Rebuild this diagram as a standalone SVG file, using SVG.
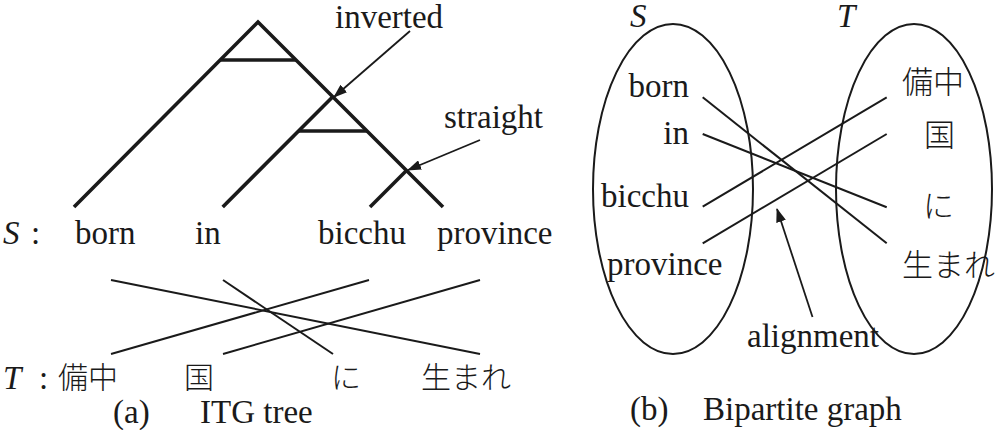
<svg xmlns="http://www.w3.org/2000/svg" width="1000" height="430" viewBox="0 0 1000 430">
<style>
.t{font-family:"Liberation Serif","DejaVu Serif",serif;font-size:33px;fill:#1a1a1a}
.it{font-family:"Liberation Serif","DejaVu Serif",serif;font-size:33px;font-style:italic;fill:#1a1a1a}
.j{font-family:"Noto Sans CJK JP","Noto Sans CJK SC",sans-serif;font-size:30px;font-weight:300;fill:#1a1a1a}
.jb{font-family:"Noto Sans CJK JP","Noto Sans CJK SC",sans-serif;font-size:31px;font-weight:300;fill:#1a1a1a}
.tree{fill:none;stroke:#1a1a1a;stroke-width:3.6;stroke-linejoin:miter}
.ln{fill:none;stroke:#1a1a1a;stroke-width:2}
.ar{fill:none;stroke:#1a1a1a;stroke-width:1.8}
.el{fill:none;stroke:#1a1a1a;stroke-width:2}
</style>
<defs>
<marker id="ah" markerUnits="userSpaceOnUse" markerWidth="14" markerHeight="10" refX="13" refY="5" orient="auto">
<path d="M0,0 L14,5 L0,10 Z" fill="#1a1a1a"/>
</marker>
</defs>
<g id="itg-tree">
<path class="tree" d="M74,207 L258,22 L443,207"/>
<path class="tree" d="M220,60 L296,60"/>
<path class="tree" d="M222.7,207 L332.8,96.8"/>
<path class="tree" d="M298.7,131 L367,131"/>
<path class="tree" d="M370,207 L406.5,170.5"/>
</g>
<g id="label-inverted"><text class="t" x="335" y="28">inverted</text></g>
<g id="label-straight"><text class="t" x="444" y="128">straight</text></g>
<g id="row-S">
<text class="it" x="3" y="244">S</text><text class="t" x="31" y="244">:</text>
</g>
<g id="s-born"><text class="t" x="75" y="244">born</text></g>
<g id="s-in"><text class="t" x="195" y="244">in</text></g>
<g id="s-bicchu"><text class="t" x="318" y="244">bicchu</text></g>
<g id="s-province"><text class="t" x="437" y="244">province</text></g>
<g id="row-T">
<text class="it" x="3" y="389">T</text><text class="t" x="39" y="389">:</text>
</g>
<g id="t-bicchu"><text class="j" x="58" y="388">備中</text></g>
<g id="t-kuni"><text class="j" x="184" y="388">国</text></g>
<g id="t-ni"><text class="j" x="331" y="388">に</text></g>
<g id="t-umare"><text class="j" x="421" y="388">生まれ</text></g>
<g id="caption-a">
<text class="t" x="113" y="423">(a)</text><text class="t" x="200" y="423">ITG tree</text>
</g>
<g id="panel-b-sets">
<text class="it" x="630" y="27">S</text>
<text class="it" x="837" y="27">T</text>
<ellipse class="el" cx="673" cy="189" rx="80" ry="165"/>
<ellipse class="el" cx="914" cy="189" rx="78" ry="165"/>
</g>
<g id="b-born"><text class="t" x="689" y="97" text-anchor="end">born</text></g>
<g id="b-in"><text class="t" x="689" y="144" text-anchor="end">in</text></g>
<g id="b-bicchu"><text class="t" x="689" y="207" text-anchor="end">bicchu</text></g>
<g id="b-province"><text class="t" x="607" y="275">province</text></g>
<g id="b-t-bicchu"><text class="jb" x="902" y="93">備中</text></g>
<g id="b-t-kuni"><text class="jb" x="924" y="146">国</text></g>
<g id="b-t-ni"><text class="jb" x="923" y="217">に</text></g>
<g id="b-t-umare"><text class="jb" x="902" y="276">生まれ</text></g>
<g id="label-alignment"><text class="t" x="747" y="347">alignment</text></g>
<g id="caption-b">
<text class="t" x="630" y="420">(b)</text><text class="t" x="703" y="420">Bipartite graph</text>
</g>
<g id="connectors">
<path class="ar" d="M410,31 L334,97" marker-end="url(#ah)"/>
<path class="ar" d="M480,140 L408,170" marker-end="url(#ah)"/>
<path class="ln" d="M111,280 L480,354"/>
<path class="ln" d="M223,280 L333,354"/>
<path class="ln" d="M369,280 L111,354"/>
<path class="ln" d="M480,280 L223,354"/>
<path class="ln" d="M702.7,97.3 L886.7,243.3"/>
<path class="ln" d="M702.7,134 L886.7,207.3"/>
<path class="ln" d="M702.7,206.7 L886.7,97.3"/>
<path class="ln" d="M702.7,243.3 L886.7,134"/>
<path class="ar" d="M812.5,317 L777,209" marker-end="url(#ah)"/>
</g>
</svg>
